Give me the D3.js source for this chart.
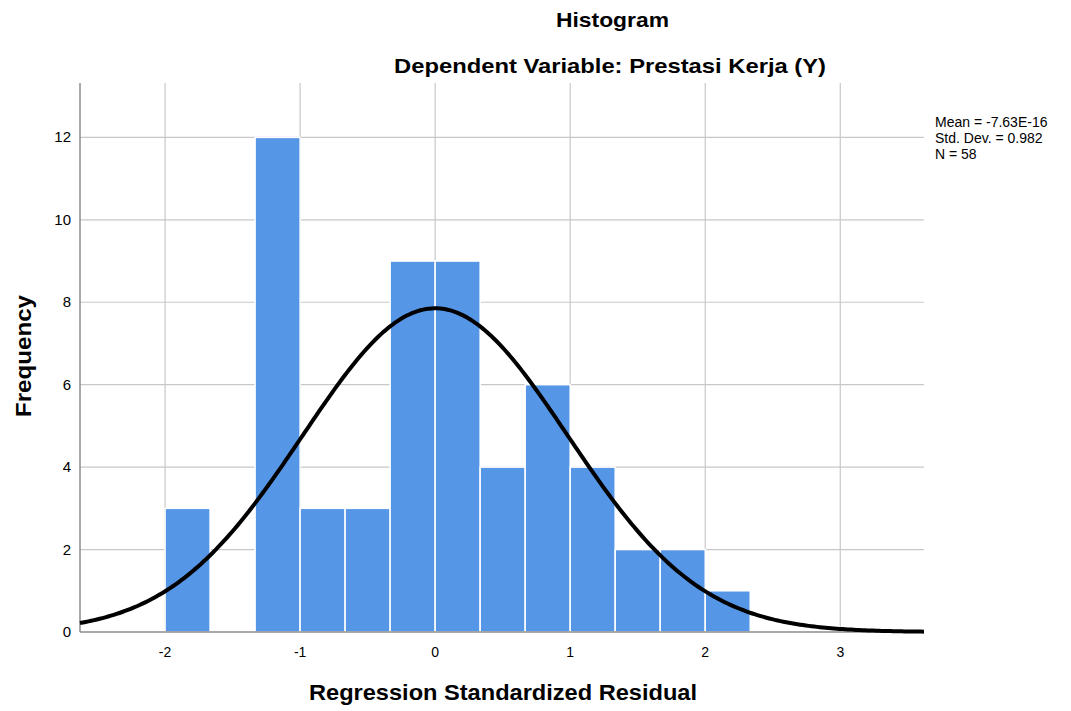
<!DOCTYPE html>
<html>
<head>
<meta charset="utf-8">
<script src="https://cdn.jsdelivr.net/npm/d3@7"></script>
<style>
  body { margin:0; background:#fff; }
  text { font-family: "Liberation Sans", Arial, sans-serif; }
</style>
</head>
<body>
<div id="canvas" class="canvas"></div>
<script>
// --- data
var binStarts = [-2.0, -1.6667, -1.3333, -1.0, -0.6667, -0.3333, 0.0, 0.3333, 0.6667, 1.0, 1.3333, 1.6667, 2.0];
var binCounts = [3, 0, 12, 3, 3, 9, 9, 4, 6, 4, 2, 2, 1];
var binWidth = 1/3;
var xTicks = [-2, -1, 0, 1, 2, 3];
var yTicks = [0, 2, 4, 6, 8, 10, 12];
var stats = {mean: -7.63e-16, sd: 0.982, n: 58};
var statLabels = ['Mean = -7.63E-16', 'Std. Dev. = 0.982', 'N = 58'];

// --- margin convention
var W = 1071, H = 711;
var M = {top:83, right:147, bottom:79, left:80};
var w = W - M.left - M.right,
    h = H - M.top - M.bottom;

var svg = d3.select('.canvas')
    .append('svg')
    .attr('width', W)
    .attr('height', H);

var plot = svg.append('g')
    .attr('transform', 'translate(' + M.left + ',' + M.top + ')');

var x = d3.scaleLinear().domain([-2.63, 3.62]).range([0, w]);
var y = d3.scaleLinear().domain([0, 13.32]).range([h, 0]);

// --- grid
plot.selectAll('.hgrid')
    .data(yTicks.filter(function(d){ return d > 0; }))
    .enter().append('line')
    .attr('x1', 0).attr('x2', w)
    .attr('y1', function(d){ return y(d); })
    .attr('y2', function(d){ return y(d); })
    .style('stroke', '#c8c8c8').style('stroke-width', 1.2);

plot.selectAll('.vgrid')
    .data(xTicks)
    .enter().append('line')
    .attr('x1', function(d){ return x(d); })
    .attr('x2', function(d){ return x(d); })
    .attr('y1', 0).attr('y2', h)
    .style('stroke', '#c8c8c8').style('stroke-width', 1.2);

// --- bars
var bins = binStarts.map(function(s, i){ return {x0:s, x1:s+binWidth, n:binCounts[i]}; });
plot.selectAll('.bar')
    .data(bins.filter(function(d){ return d.n > 0; }))
    .enter().append('rect')
    .attr('x', function(d){ return x(d.x0); })
    .attr('width', function(d){ return x(d.x1) - x(d.x0); })
    .attr('y', function(d){ return y(d.n); })
    .attr('height', function(d){ return y(0) - y(d.n); })
    .style('fill', '#5596e6')
    .style('stroke', '#ffffff')
    .style('stroke-width', 1.5);

// --- axes lines
plot.append('line')
    .attr('x1', 0).attr('x2', 0).attr('y1', 0).attr('y2', h)
    .style('stroke', '#8c8c8c').style('stroke-width', 1.5);
plot.append('line')
    .attr('x1', 0).attr('x2', w).attr('y1', h).attr('y2', h)
    .style('stroke', '#8c8c8c').style('stroke-width', 1.5);

// --- normal curve from the stats
var curve = d3.range(0, 301).map(function(i){
    var v = x.domain()[0] + (x.domain()[1] - x.domain()[0]) * i / 300;
    var z = (v - stats.mean) / stats.sd;
    return {v:v, f: stats.n * binWidth * Math.exp(-0.5*z*z) / (stats.sd * Math.sqrt(2*Math.PI))};
});
plot.append('path')
    .datum(curve)
    .attr('d', d3.line().x(function(d){ return x(d.v); }).y(function(d){ return y(d.f); }))
    .style('fill', 'none')
    .style('stroke', '#000')
    .style('stroke-width', 4);

// --- tick labels
plot.selectAll('.xl')
    .data(xTicks)
    .enter().append('text')
    .attr('x', function(d){ return x(d); })
    .attr('y', h + 25)
    .attr('text-anchor', 'middle')
    .style('font-size', '14px')
    .text(function(d){ return d; });

plot.selectAll('.yl')
    .data(yTicks)
    .enter().append('text')
    .attr('x', -9)
    .attr('y', function(d){ return y(d) + 5; })
    .attr('text-anchor', 'end')
    .style('font-size', '15px')
    .text(function(d){ return d; });

// --- titles
svg.append('text').attr('x', 556).attr('y', 27)
    .attr('textLength', 113).attr('lengthAdjust', 'spacingAndGlyphs')
    .style('font-size', '21px').style('font-weight', 'bold')
    .text('Histogram');
svg.append('text').attr('x', 394).attr('y', 73)
    .attr('textLength', 432).attr('lengthAdjust', 'spacingAndGlyphs')
    .style('font-size', '21px').style('font-weight', 'bold')
    .text('Dependent Variable: Prestasi Kerja (Y)');
svg.append('text').attr('x', 309).attr('y', 700)
    .attr('textLength', 388).attr('lengthAdjust', 'spacingAndGlyphs')
    .style('font-size', '22px').style('font-weight', 'bold')
    .text('Regression Standardized Residual');
svg.append('text')
    .attr('transform', 'translate(31,417) rotate(-90)')
    .attr('textLength', 122).attr('lengthAdjust', 'spacingAndGlyphs')
    .style('font-size', '22px').style('font-weight', 'bold')
    .text('Frequency');

// --- stats box
svg.selectAll('.stat')
    .data(statLabels)
    .enter().append('text')
    .attr('x', 935)
    .attr('y', function(d, i){ return 127 + i*16; })
    .style('font-size', '14px')
    .text(function(d){ return d; });
</script>
</body>
</html>
